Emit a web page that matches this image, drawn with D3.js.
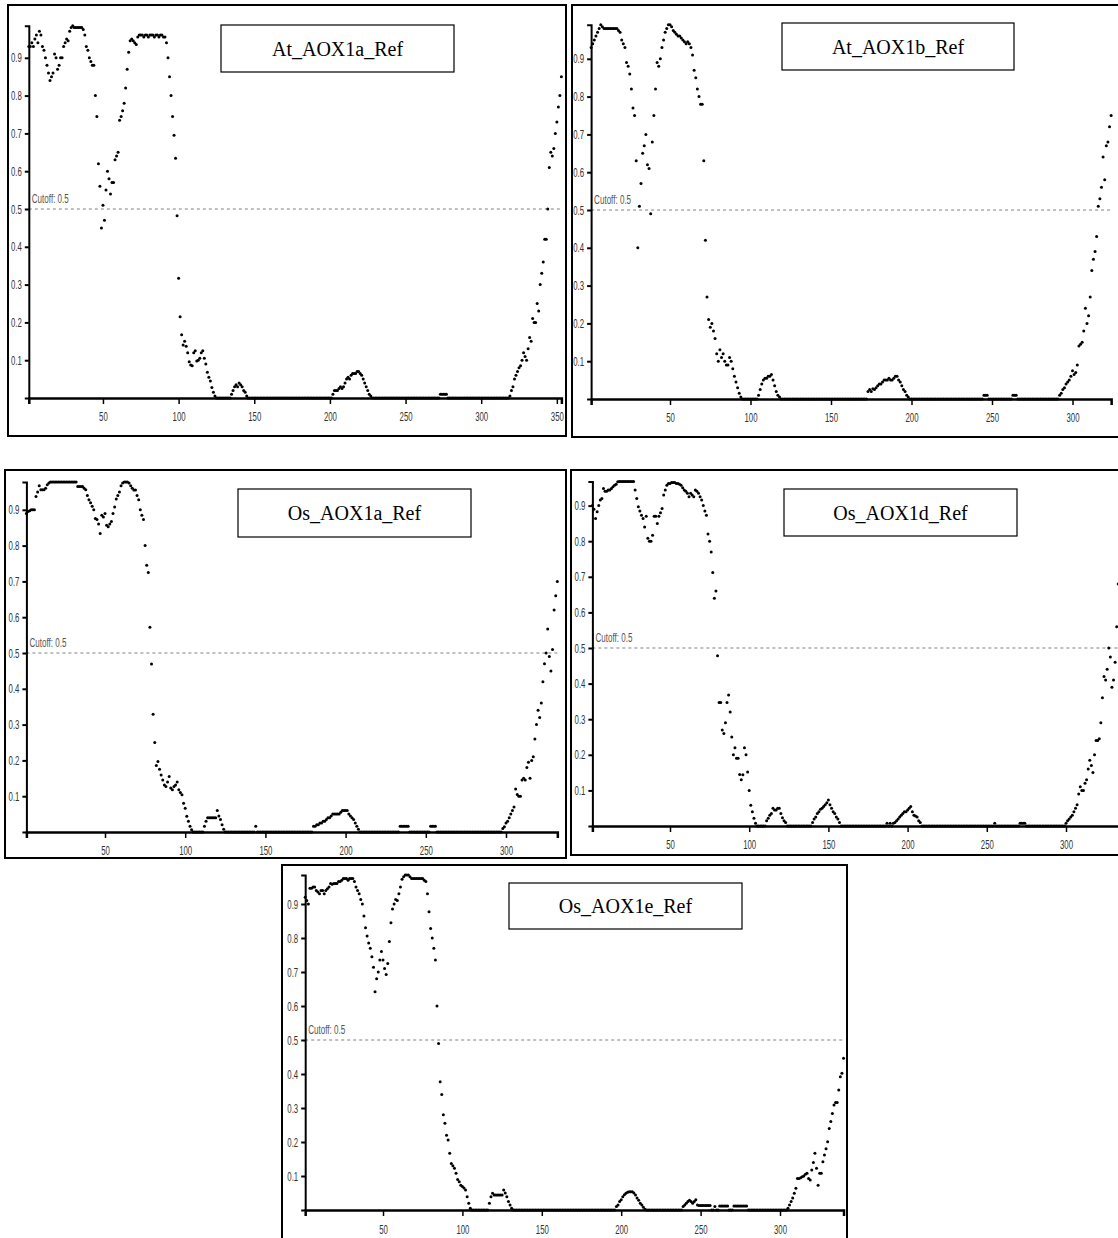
<!DOCTYPE html>
<html><head><meta charset="utf-8">
<script src="https://cdn.jsdelivr.net/npm/d3@7"></script>
<style>body{margin:0;background:#fff}svg{display:block}</style>
</head><body>
<svg id="c" width="1118" height="1238"></svg>
<script>
// ---------- data ----------
const titles = ["At_AOX1a_Ref","At_AOX1b_Ref","Os_AOX1a_Ref","Os_AOX1d_Ref","Os_AOX1e_Ref"];
const xTickValues = [50,100,150,200,250,300,350];
const yTickValues = [0.1,0.2,0.3,0.4,0.5,0.6,0.7,0.8,0.9];
const cutoffValue = 0.5;
const cutoffText = "Cutoff: 0.5";

const atAOX1a = [
0.93,0.93,0.94,0.93,0.95,0.96,0.94,0.97,0.96,0.93,
0.92,0.90,0.88,0.86,0.84,0.85,0.86,0.91,0.90,0.87,
0.88,0.90,0.90,0.93,0.94,0.95,0.945,0.97,0.98,0.985,
0.98,0.98,0.98,0.98,0.98,0.98,0.975,0.96,0.93,0.92,
0.90,0.89,0.88,0.88,0.80,0.745,0.62,0.56,0.45,0.51,
0.47,0.55,0.60,0.58,0.54,0.57,0.57,0.63,0.64,0.65,
0.735,0.745,0.76,0.78,0.82,0.87,0.915,0.945,0.95,0.945,
0.94,0.935,0.955,0.96,0.96,0.96,0.955,0.96,0.96,0.955,
0.96,0.96,0.96,0.955,0.96,0.96,0.955,0.96,0.96,0.955,
0.955,0.94,0.90,0.85,0.80,0.745,0.695,0.634,0.482,0.317,
0.215,0.167,0.14,0.15,0.137,0.12,0.096,0.087,0.085,0.12,
0.125,0.098,0.10,0.105,0.12,0.125,0.105,0.09,0.068,0.055,
0.045,0.028,0.015,0.005,0,0,0,0,0,0,
0,0,0,0,0.01,0.02,0.03,0.035,0.03,0.04,
0.035,0.03,0.02,0.015,0.005,0,0,0,0,0,
0,0,0,0,0,0,0,0,0,0,
0,0,0,0,0,0,0,0,0,0,
0,0,0,0,0,0,0,0,0,0,
0,0,0,0,0,0,0,0,0,0,
0,0,0,0,0,0,0,0,0,0,
0,0.01,0.02,0.02,0.02,0.025,0.03,0.025,0.03,0.04,
0.05,0.055,0.05,0.06,0.065,0.065,0.065,0.07,0.07,0.065,
0.06,0.05,0.04,0.03,0.02,0.01,0.005,0,0,0,
0,0,0,0,0,0,0,0,0,0,
0,0,0,0,0,0,0,0,0,0,
0,0,0,0,0,0,0,0,0,0,
0,0,0,0,0,0,0,0,0,0,
0,0,0.01,0.01,0.01,0.01,0.01,0,0,0,
0,0,0,0,0,0,0,0,0,0,
0,0,0,0,0,0,0,0,0,0,
0,0,0,0,0,0,0,0,0,0,
0,0,0,0,0,0,0,0,0.005,0.02,
0.03,0.05,0.06,0.07,0.08,0.085,0.10,0.12,0.11,0.10,
0.13,0.16,0.15,0.21,0.20,0.20,0.25,0.23,0.30,0.33,
0.36,0.42,0.42,0.50,0.61,0.65,0.64,0.66,0.70,0.73,
0.77,0.80,0.85];

const atAOX1b = [
0.93,0.94,0.95,0.96,0.97,0.98,0.99,0.985,0.98,0.98,
0.98,0.98,0.98,0.98,0.98,0.98,0.98,0.975,0.97,0.95,
0.94,0.93,0.89,0.88,0.86,0.82,0.77,0.75,0.63,0.40,
0.51,0.57,0.65,0.67,0.70,0.62,0.61,0.49,0.68,0.75,
0.82,0.89,0.88,0.90,0.93,0.95,0.97,0.98,0.99,0.99,
0.985,0.975,0.97,0.965,0.96,0.96,0.955,0.95,0.945,0.94,
0.945,0.94,0.93,0.91,0.87,0.85,0.82,0.80,0.78,0.78,
0.63,0.42,0.27,0.21,0.19,0.20,0.18,0.16,0.12,0.10,
0.13,0.11,0.12,0.10,0.09,0.09,0.11,0.10,0.08,0.06,
0.045,0.03,0.015,0.005,0,0,0,0,0,0,
0,0,0,0,0.01,0.025,0.04,0.05,0.055,0.055,
0.06,0.06,0.065,0.05,0.035,0.02,0.01,0.005,0,0,
0,0,0,0,0,0,0,0,0,0,
0,0,0,0,0,0,0,0,0,0,
0,0,0,0,0,0,0,0,0,0,
0,0,0,0,0,0,0,0,0,0,
0,0,0,0,0,0,0,0,0,0,
0,0,0.02,0.025,0.02,0.027,0.025,0.03,0.035,0.04,
0.04,0.045,0.05,0.05,0.05,0.055,0.05,0.05,0.055,0.06,
0.06,0.05,0.045,0.035,0.025,0.02,0.01,0.005,0,0,
0,0,0,0,0,0,0,0,0,0,
0,0,0,0,0,0,0,0,0,0,
0,0,0,0,0,0,0,0,0,0,
0,0,0,0,0,0,0,0,0,0,
0,0,0,0,0.01,0.01,0.01,0,0,0,
0,0,0,0,0,0,0,0,0,0,
0,0,0.01,0.01,0.01,0,0,0,0,0,
0,0,0,0,0,0,0,0,0,0,
0,0,0,0,0,0,0,0,0,0,
0,0.01,0.015,0.025,0.03,0.04,0.045,0.05,0.06,0.075,
0.065,0.07,0.09,0.14,0.145,0.15,0.18,0.24,0.20,0.22,
0.27,0.34,0.37,0.39,0.43,0.51,0.53,0.56,0.64,0.58,
0.67,0.68,0.72,0.75];

const osAOX1a = [
0.89,0.895,0.897,0.90,0.90,0.90,0.937,0.95,0.967,0.956,
0.956,0.956,0.96,0.97,0.975,0.978,0.978,0.978,0.978,0.978,
0.978,0.978,0.978,0.978,0.978,0.978,0.978,0.978,0.978,0.978,
0.978,0.978,0.965,0.965,0.965,0.965,0.96,0.956,0.94,0.928,
0.92,0.91,0.90,0.876,0.873,0.86,0.834,0.885,0.88,0.89,
0.857,0.853,0.86,0.867,0.89,0.908,0.93,0.94,0.95,0.967,
0.975,0.978,0.978,0.978,0.975,0.967,0.96,0.955,0.955,0.94,
0.928,0.90,0.885,0.873,0.80,0.745,0.725,0.572,0.469,0.329,
0.25,0.186,0.197,0.175,0.159,0.145,0.131,0.127,0.14,0.155,
0.123,0.118,0.127,0.131,0.14,0.118,0.11,0.104,0.08,0.066,
0.044,0.03,0.016,0.006,0,0,0,0,0,0,
0,0.016,0.03,0.04,0.04,0.04,0.04,0.04,0.04,0.06,
0.045,0.035,0.02,0.008,0,0,0,0,0,0,
0,0,0,0,0,0,0,0,0,0,
0,0,0,0.016,0,0,0,0,0,0,
0,0,0,0,0,0,0,0,0,0,
0,0,0,0,0,0,0,0,0,0,
0,0,0,0,0,0,0,0,0,0.016,
0.016,0.02,0.02,0.025,0.025,0.03,0.03,0.035,0.04,0.04,
0.045,0.05,0.05,0.05,0.05,0.05,0.055,0.06,0.06,0.06,
0.06,0.05,0.045,0.04,0.035,0.025,0.016,0.008,0,0,
0,0,0,0,0,0,0,0,0,0,
0,0,0,0,0,0,0,0,0,0,
0,0,0,0.016,0.016,0.016,0.016,0.016,0.016,0,
0,0,0,0,0,0,0,0,0,0,
0,0,0.016,0.016,0.016,0.016,0,0,0,0,
0,0,0,0,0,0,0,0,0,0,
0,0,0,0,0,0,0,0,0,0,
0,0,0,0,0,0,0,0,0,0,
0,0,0,0,0,0,0,0.01,0.015,0.025,
0.03,0.04,0.05,0.06,0.07,0.12,0.105,0.10,0.10,0.145,
0.15,0.145,0.18,0.195,0.15,0.20,0.21,0.26,0.30,0.34,
0.32,0.36,0.42,0.47,0.50,0.567,0.49,0.45,0.51,0.62,
0.66,0.70];

const osAOX1d = [
0.90,0.89,0.864,0.883,0.90,0.916,0.92,0.948,0.94,0.94,
0.944,0.944,0.948,0.953,0.957,0.96,0.967,0.968,0.968,0.968,
0.968,0.968,0.968,0.968,0.968,0.968,0.968,0.944,0.92,0.897,
0.885,0.873,0.864,0.84,0.87,0.808,0.80,0.80,0.817,0.87,
0.87,0.85,0.87,0.88,0.892,0.93,0.944,0.957,0.962,0.962,
0.965,0.965,0.965,0.962,0.962,0.96,0.957,0.95,0.944,0.94,
0.935,0.925,0.935,0.93,0.925,0.944,0.94,0.935,0.925,0.916,
0.90,0.885,0.873,0.82,0.80,0.77,0.712,0.64,0.66,0.478,
0.347,0.347,0.27,0.26,0.29,0.347,0.368,0.32,0.25,0.20,
0.22,0.19,0.19,0.145,0.13,0.144,0.22,0.20,0.152,0.10,
0.058,0.04,0.022,0.008,0,0,0,0,0,0,
0.015,0.022,0.03,0.035,0.05,0.045,0.045,0.05,0.05,0.035,
0.023,0.015,0.01,0,0,0,0,0,0,0,
0,0,0,0,0,0,0,0,0,0.01,
0.02,0.025,0.035,0.04,0.047,0.05,0.055,0.06,0.065,0.073,
0.06,0.05,0.04,0.035,0.025,0.02,0.01,0,0,0,
0,0,0,0,0,0,0,0,0,0,
0,0,0,0,0,0,0,0,0,0,
0,0,0,0,0,0,0.008,0,0.008,0,
0.008,0.01,0.015,0.02,0.025,0.03,0.035,0.04,0.04,0.045,
0.05,0.055,0.04,0.03,0.028,0.025,0.015,0.01,0,0,
0,0,0,0,0,0,0,0,0,0,
0,0,0,0,0,0,0,0,0,0,
0,0,0,0,0,0,0,0,0,0,
0,0,0,0,0,0,0,0,0,0,
0,0,0,0,0.008,0,0,0,0,0,
0,0,0,0,0,0,0,0,0,0,
0.008,0.008,0.008,0.008,0,0,0,0,0,0,
0,0,0,0,0,0,0,0,0,0,
0,0,0,0,0,0,0,0,0,0.008,
0.015,0.02,0.025,0.03,0.04,0.05,0.06,0.09,0.11,0.10,
0.10,0.12,0.13,0.16,0.185,0.17,0.15,0.20,0.24,0.24,
0.245,0.29,0.36,0.42,0.41,0.44,0.50,0.475,0.39,0.41,
0.46,0.56,0.68,0.62,0.66];

const osAOX1e = [
0.92,0.91,0.90,0.946,0.946,0.95,0.95,0.94,0.935,0.93,
0.94,0.94,0.93,0.94,0.945,0.95,0.96,0.958,0.96,0.96,
0.96,0.966,0.966,0.97,0.975,0.975,0.975,0.97,0.975,0.975,
0.975,0.966,0.95,0.94,0.93,0.913,0.90,0.865,0.83,0.806,
0.785,0.77,0.745,0.714,0.642,0.68,0.70,0.735,0.76,0.735,
0.71,0.693,0.725,0.79,0.845,0.885,0.90,0.913,0.91,0.93,
0.95,0.973,0.98,0.985,0.985,0.985,0.98,0.975,0.975,0.975,
0.975,0.975,0.975,0.975,0.975,0.97,0.966,0.93,0.877,0.828,
0.80,0.77,0.735,0.60,0.49,0.377,0.34,0.28,0.255,0.22,
0.206,0.167,0.137,0.13,0.123,0.108,0.09,0.083,0.073,0.069,
0.065,0.059,0.039,0.02,0.005,0,0,0,0,0,
0,0,0,0,0,0,0.02,0.039,0.049,0.044,
0.044,0.044,0.044,0.044,0.044,0.059,0.05,0.039,0.025,0.015,
0.005,0,0,0,0,0,0,0,0,0,
0,0,0,0,0,0,0,0,0,0,
0,0,0,0,0,0,0,0,0,0,
0,0,0,0,0,0,0,0,0,0,
0,0,0,0,0,0,0,0,0,0,
0,0,0,0,0,0,0,0,0,0,
0,0,0,0,0,0,0.01,0.015,0.025,0.03,
0.039,0.045,0.049,0.052,0.054,0.054,0.054,0.05,0.044,0.035,
0.029,0.02,0.015,0.008,0.002,0,0,0,0,0,
0,0,0,0,0,0,0,0,0,0,
0,0,0,0,0,0,0,0,0.01,0.015,
0.02,0.025,0.029,0.025,0.02,0.025,0.03,0.015,0.013,0.013,
0.013,0.013,0.013,0.013,0.013,0.013,0,0,0.01,0,
0,0.012,0.012,0.012,0.012,0.012,0.012,0,0,0,
0.012,0.012,0.012,0.012,0.012,0.012,0.012,0.012,0.012,0,
0,0,0,0,0,0,0,0,0,0,
0,0,0,0,0,0,0,0,0,0,
0,0,0,0,0.005,0.015,0.025,0.035,0.049,0.064,
0.093,0.093,0.095,0.098,0.10,0.105,0.108,0.093,0.088,0.118,
0.14,0.167,0.123,0.073,0.108,0.108,0.142,0.162,0.18,0.201,
0.24,0.26,0.284,0.309,0.316,0.316,0.353,0.392,0.402,0.446];

const seriesList = [atAOX1a, atAOX1b, osAOX1a, osAOX1d, osAOX1e];

// ---------- layout (positions only) ----------
const layouts = [
  {frame:[8,5,566,436],   x0:27.3,  k:1.513, y0:398,  ky:378, box:[221,25,454,72],  pad:8},
  {frame:[572,5,1130,437],x0:589.5, k:1.61,  y0:399,  ky:378, box:[782,23,1014,70], pad:8},
  {frame:[5,470,566,858], x0:24.8,  k:1.604, y0:832,  ky:358, box:[238,489,471,537],pad:8},
  {frame:[571,470,1130,855],x0:590.8,k:1.584,y0:826,  ky:356, box:[784,489,1017,536],pad:8},
  {frame:[282,865,847,1250],x0:303.6,k:1.588,y0:1210, ky:340, box:[509,883,742,929],pad:9}
];

const svg = d3.select("#c");
svg.append("rect").attr("width",1118).attr("height",1238).attr("fill","#fff");
const SX = 0.6;
const smallFont = "'Liberation Sans', Arial, sans-serif";

seriesList.forEach((vals, i) => {
  const L = vals.length;
  const lay = layouts[i];
  const g = svg.append("g");
  const [fx1, fy1, fx2, fy2] = lay.frame;
  g.append("rect").attr("x",fx1).attr("y",fy1).attr("width",fx2-fx1).attr("height",fy2-fy1)
    .attr("fill","#fff").attr("stroke","#000").attr("stroke-width",2);

  const x = d3.scaleLinear().domain([1, L]).range([lay.x0 + lay.k, lay.x0 + lay.k*L]);
  const y = d3.scaleLinear().domain([0, 1]).range([lay.y0, lay.y0 - lay.ky]);
  const yTop = d3.max(vals);
  const yA = d3.scaleLinear().domain([0, yTop]).range([y(0), y(yTop)]);

  // cutoff line
  g.append("line").attr("x1", x(1)).attr("x2", x(L)).attr("y1", y(cutoffValue)).attr("y2", y(cutoffValue))
    .attr("stroke","#808080").attr("stroke-width",1).attr("stroke-dasharray","3,3");
  g.append("text").attr("transform",`translate(${x(1)+3},${y(cutoffValue)-6}) scale(0.62,1)`)
    .attr("font-family",smallFont).attr("font-size",13).attr("fill","#555").text(cutoffText);

  // y axis
  const ya = g.append("g").attr("transform",`translate(${x(1)},0)`)
    .call(d3.axisLeft(yA).tickValues(yTickValues.filter(v=>v<yTop)).tickSize(4).tickSizeOuter(4).tickPadding(3).tickFormat(d3.format(".1f")));
  ya.select(".domain").attr("stroke","#000").attr("stroke-width",2);
  ya.selectAll(".tick line").attr("stroke","#000").attr("stroke-width",2);
  ya.selectAll(".tick text").attr("font-family",smallFont).attr("font-size",13).attr("fill","#333")
    .attr("x", -7/SX).attr("transform",`scale(${SX},1)`);

  // x axis
  const xa = g.append("g").attr("transform",`translate(0,${y(0)})`)
    .call(d3.axisBottom(x).tickValues(xTickValues.filter(v=>v<=L)).tickSize(6).tickSizeOuter(6).tickPadding(lay.pad));
  xa.select(".domain").attr("stroke","#000").attr("stroke-width",2.5);
  xa.selectAll(".tick line").attr("stroke","#000").attr("stroke-width",1.5);
  xa.selectAll(".tick text").attr("font-family",smallFont).attr("font-size",13).attr("fill","#333")
    .attr("transform",`scale(${SX},1)`);

  // dots
  g.append("g").selectAll("circle").data(vals).join("circle")
    .attr("cx",(d,j)=>x(j+1)).attr("cy",d=>y(d)).attr("r",1.5).attr("fill","#000");

  // title box
  const [bx1,by1,bx2,by2] = lay.box;
  g.append("rect").attr("x",bx1).attr("y",by1).attr("width",bx2-bx1).attr("height",by2-by1)
    .attr("fill","#fff").attr("stroke","#000").attr("stroke-width",1.2);
  g.append("text").attr("x",(bx1+bx2)/2).attr("y",(by1+by2)/2+7).attr("text-anchor","middle")
    .attr("font-family","'Liberation Serif','Times New Roman',serif").attr("font-size",20).attr("fill","#000")
    .text(titles[i]);
});
</script>
</body></html>
